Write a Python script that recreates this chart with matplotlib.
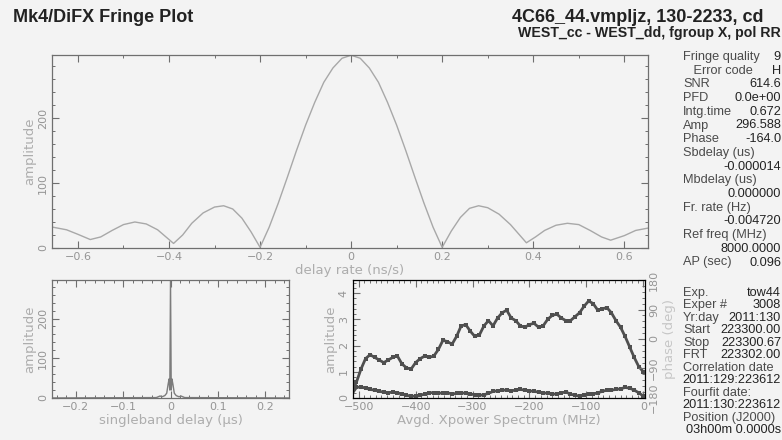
"""Mk4/DiFX fringe plot, redrawn with matplotlib."""

import matplotlib

matplotlib.use("Agg")
import matplotlib.pyplot as plt  # noqa: E402
from matplotlib.ticker import FuncFormatter, MultipleLocator  # noqa: E402

BG = "#f3f3f3"
AXIS = "#6f6f6f"
TICKTXT = "#959595"
LABEL = "#adadad"
INK = "#222222"
GREY_TXT = "#4a4a4a"

# delay-rate spectrum (top panel)
rate = [-0.655, -0.625, -0.6, -0.573, -0.55, -0.525, -0.5, -0.475, -0.45, -0.425,
        -0.405, -0.39, -0.37, -0.35, -0.325, -0.3, -0.28, -0.26, -0.24, -0.22,
        -0.2, -0.18, -0.16, -0.14, -0.12, -0.1, -0.08, -0.06, -0.04, -0.02,
        0.0, 0.02, 0.04, 0.06, 0.08, 0.1, 0.12, 0.14, 0.16, 0.18,
        0.2, 0.22, 0.24, 0.26, 0.28, 0.3, 0.325, 0.35, 0.37, 0.385,
        0.405, 0.425, 0.45, 0.475, 0.5, 0.525, 0.55, 0.57, 0.6, 0.625, 0.655]
rate_amp = [32, 28, 21, 13, 17, 27, 36, 40, 37, 28,
            16, 7, 20, 38, 54, 63, 65, 60, 46, 25,
            1, 32, 69, 109, 150, 189, 224, 255, 277, 292,
            296.6, 292, 277, 255, 224, 189, 150, 109, 69, 32,
            1, 26, 47, 61, 65, 62, 52, 36, 20, 8,
            17, 27, 35, 38, 36, 27, 17, 12, 19, 27, 31]

# singleband delay (bottom left)
sb_delay = [-0.25, -0.03, -0.022, -0.018, -0.012, -0.008, -0.005, -0.003, -0.0015,
            0.0, 0.0015, 0.003, 0.005, 0.008, 0.012, 0.018, 0.022, 0.03, 0.25]
sb_amp = [0, 1, 5, 3, 6, 12, 35, 48, 20, 296, 20, 48, 35, 12, 6, 3, 5, 1, 0]

# averaged cross-power spectrum (bottom right)
freq = [-512, -504, -496, -488, -480, -472, -464, -456, -448, -440,
        -432, -424, -416, -408, -400, -392, -384, -376, -368, -360,
        -352, -344, -336, -328, -320, -312, -304, -296, -288, -280,
        -272, -264, -256, -248, -240, -232, -224, -216, -208, -200,
        -192, -184, -176, -168, -160, -152, -144, -136, -128, -120,
        -112, -104, -96, -88, -80, -72, -64, -56, -48, -40,
        -32, -24, -16, -8, 0]
xpow_amp = [0.25, 0.6, 1.1, 1.5, 1.65, 1.55, 1.45, 1.35, 1.45, 1.55,
            1.6, 1.3, 1.15, 1.1, 1.35, 1.5, 1.6, 1.55, 1.6, 1.85,
            2.2, 2.15, 2.05, 2.35, 2.75, 2.8, 2.55, 2.35, 2.4, 2.75,
            2.95, 2.75, 3.05, 3.25, 3.35, 3.05, 2.95, 2.75, 2.7, 2.8,
            2.85, 2.7, 2.75, 3.0, 3.15, 3.2, 3.05, 2.95, 2.95, 3.1,
            3.25, 3.5, 3.7, 3.6, 3.35, 3.4, 3.45, 3.25, 2.95, 2.7,
            2.35, 1.95, 1.55, 1.2, 1.0]
xpow_phase = [-168, -148, -146, -150, -154, -156, -160, -162, -164, -162,
              -164, -168, -172, -174, -175, -172, -168, -164, -164, -166,
              -164, -164, -168, -166, -164, -166, -168, -170, -172, -170,
              -166, -160, -158, -156, -156, -158, -156, -154, -156, -158,
              -160, -162, -164, -166, -168, -168, -164, -162, -168, -172,
              -174, -170, -168, -168, -164, -160, -156, -156, -154, -152,
              -148, -150, -156, -164, -174]

info_top = [
    ("Fringe quality", "9"), ("   Error code", "H"), ("SNR", "614.6"),
    ("PFD", "0.0e+00"), ("Intg.time", "0.672"), ("Amp", "296.588"),
    ("Phase", "-164.0"), ("Sbdelay (us)", ""), ("", "-0.000014"),
    ("Mbdelay (us)", ""), ("", "0.000000"), ("Fr. rate (Hz)", ""),
    ("", "-0.004720"), ("Ref freq (MHz)", ""), ("", "8000.0000"),
    ("AP (sec)", "0.096"),
]
info_bottom = [
    ("Exp.", "tow44"), ("Exper #", "3008"), ("Yr:day", "2011:130"),
    ("Start", "223300.00"), ("Stop", "223300.67"), ("FRT", "223302.00"),
    ("Correlation date", ""), ("", "2011:129:223612"), ("Fourfit date:", ""),
    ("", "2011:130:223612"), ("Position (J2000)", ""), ("", "03h00m 0.0000s"),
]


def short_num(v, _pos):
    s = f"{v:.10g}"
    if s in ("-0", "-0.0"):
        s = "0"
    return s.replace("-", "\u2212")


def style_axes(ax, xmaj, xmin, ymaj, ymin, right=True):
    ax.set_facecolor(BG)
    for s in ax.spines.values():
        s.set_color(AXIS)
        s.set_linewidth(0.9)
    ax.xaxis.set_major_locator(MultipleLocator(xmaj))
    ax.xaxis.set_minor_locator(MultipleLocator(xmin))
    ax.yaxis.set_major_locator(MultipleLocator(ymaj))
    ax.yaxis.set_minor_locator(MultipleLocator(ymin))
    ax.xaxis.set_major_formatter(FuncFormatter(short_num))
    ax.yaxis.set_major_formatter(FuncFormatter(short_num))
    ax.tick_params(which="both", direction="in", top=True, right=right,
                   color=AXIS, labelcolor=TICKTXT, labelsize=8, pad=3)
    ax.tick_params(which="major", length=5, width=0.8)
    ax.tick_params(which="minor", length=2.5, width=0.7)
    for lab in ax.get_yticklabels():
        lab.set_rotation(90)
        lab.set_va("center")


fig = plt.figure(figsize=(7.82, 4.40), dpi=100, facecolor=BG)

# top: delay rate
ax_top = fig.add_axes([0.0665, 0.4364, 0.7621, 0.4386])
ax_top.plot(rate, rate_amp, color="#a8a8a8", lw=1.0)
ax_top.set_xlim(-0.657, 0.652)
ax_top.set_ylim(0, 297)
style_axes(ax_top, 0.2, 0.1, 100, 20)
ax_top.set_xlabel("delay rate (ns/s)", color=LABEL, fontsize=9.5, labelpad=1)
ax_top.set_ylabel("amplitude", color=LABEL, fontsize=9.5, labelpad=1)

# bottom left: singleband delay
ax_sb = fig.add_axes([0.0665, 0.0955, 0.3031, 0.2681])
ax_sb.plot(sb_delay, sb_amp, color="#7c7c7c", lw=1.0)
ax_sb.set_xlim(-0.25, 0.25)
ax_sb.set_ylim(0, 297)
style_axes(ax_sb, 0.1, 0.02, 100, 20)
ax_sb.set_xlabel("singleband delay (\u03bcs)", color=LABEL, fontsize=9.5, labelpad=1)
ax_sb.set_ylabel("amplitude", color=LABEL, fontsize=9.5, labelpad=1)

# bottom right: cross-power spectrum
ax_xp = fig.add_axes([0.4514, 0.0955, 0.3734, 0.2681])
ax_xp.plot(freq, xpow_amp, color="#4f4f4f", lw=2.0, marker="s", ms=2.4, mew=0)
ax_xp.set_xlim(-510, 3)
ax_xp.set_ylim(0, 4.5)
style_axes(ax_xp, 100, 10, 1, 0.2, right=False)
ax_xp.set_xlabel("Avgd. Xpower Spectrum (MHz)", color=LABEL, fontsize=9.5, labelpad=1)
ax_xp.set_ylabel("amplitude", color=LABEL, fontsize=9.5, labelpad=1)

ax_ph = ax_xp.twinx()
ax_ph.plot(freq, xpow_phase, color="#4f4f4f", lw=2.0, marker="s", ms=2.4, mew=0)
ax_ph.set_ylim(-180, 180)
ax_ph.yaxis.set_major_locator(MultipleLocator(90))
ax_ph.yaxis.set_minor_locator(MultipleLocator(18))
ax_ph.yaxis.set_major_formatter(FuncFormatter(short_num))
ax_ph.tick_params(which="both", direction="in", color=AXIS, labelcolor=TICKTXT,
                  labelsize=8, pad=3)
ax_ph.tick_params(which="major", length=5, width=0.8)
ax_ph.tick_params(which="minor", length=2.5, width=0.7)
for lab in ax_ph.get_yticklabels():
    lab.set_rotation(90)
    lab.set_va("center")
ax_ph.set_ylabel("phase (deg)", color="#c6c6c6", fontsize=9.5, labelpad=3)

# titles
fig.text(13 / 782, 1 - 18 / 440, "Mk4/DiFX Fringe Plot", family="Liberation Sans",
         fontsize=13, fontweight="bold", color=INK, va="center")
fig.text(763 / 782, 1 - 17.5 / 440, "4C66_44.vmpljz, 130-2233, cd", family="Liberation Sans",
         fontsize=13, fontweight="bold", color=INK, ha="right", va="center")
fig.text(781 / 782, 1 - 32.5 / 440, "WEST_cc - WEST_dd, fgroup X, pol RR",
         family="Liberation Sans", fontsize=10.2, fontweight="bold", color=INK,
         ha="right", va="center")

# info column
x_lab, x_val = 683 / 782, 781 / 782
for i, (lab, val) in enumerate(info_top):
    y = 1 - (57 + i * 13.7) / 440
    fig.text(x_lab, y, lab, family="Liberation Sans", fontsize=9.2, color=GREY_TXT, va="center")
    fig.text(x_val, y, val, family="Liberation Sans", fontsize=9.2, color=INK,
             ha="right", va="center")
for i, (lab, val) in enumerate(info_bottom):
    y = 1 - (293 + i * 12.45) / 440
    fig.text(x_lab, y, lab, family="Liberation Sans", fontsize=9.2, color=GREY_TXT, va="center")
    fig.text(x_val, y, val, family="Liberation Sans", fontsize=9.2, color=INK,
             ha="right", va="center")

fig.savefig("out.png", dpi=100, facecolor=BG)
